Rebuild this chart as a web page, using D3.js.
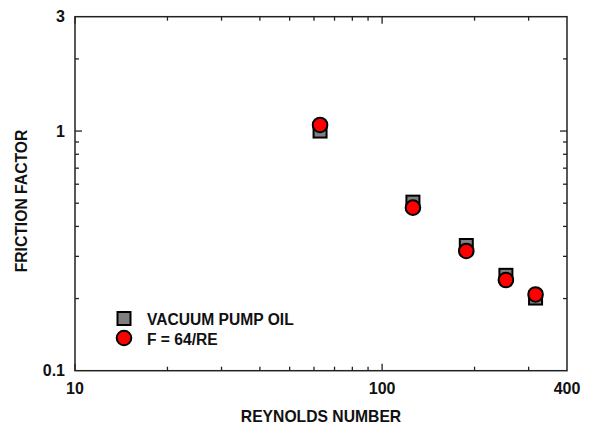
<!DOCTYPE html>
<html><head><meta charset="utf-8">
<script src="https://cdn.jsdelivr.net/npm/d3@7"></script>
<style>body{margin:0;background:#fff}svg{display:block}text{font-family:"Liberation Sans",Arial,sans-serif;font-weight:bold;fill:#111}</style>
</head><body>
<script>
const reynolds = [62.8, 126, 188, 253, 316];
const oilFriction = [1.0, 0.505, 0.333, 0.250, 0.201];
const theoryFriction = [1.06, 0.479, 0.316, 0.239, 0.208];
const xTickLabels = [10, 100, 400];
const yTickLabels = [0.1, 1, 3];
const xMinor = [20,30,40,50,60,70,80,90,200,300];
const yMinor = [0.2,0.3,0.4,0.5,0.6,0.7,0.8,0.9,2];
const seriesNames = ["VACUUM PUMP OIL", "F = 64/RE"];

const W = 591, H = 427;
const m = {l:75, r:567, t:16.7, b:370.7};
const svg = d3.select("body").append("svg").attr("width", W).attr("height", H);
const x = d3.scaleLog().domain([10,400]).range([m.l, m.r]);
const y = d3.scaleLog().domain([0.1,3]).range([m.b, m.t]);

const axisColor = "#222";
svg.append("rect").attr("x", m.l).attr("y", m.t).attr("width", m.r-m.l).attr("height", m.b-m.t)
  .attr("fill","none").attr("stroke",axisColor).attr("stroke-width",1.5);

const g = svg.append("g").attr("stroke", axisColor).attr("stroke-width",1.3);
const xMajor = [10,100];
const yMajor = [1];
function xt(v, len){
  g.append("line").attr("x1",x(v)).attr("x2",x(v)).attr("y1",m.b).attr("y2",m.b-len);
  g.append("line").attr("x1",x(v)).attr("x2",x(v)).attr("y1",m.t).attr("y2",m.t+len);
}
function yt(v, len){
  g.append("line").attr("y1",y(v)).attr("y2",y(v)).attr("x1",m.l).attr("x2",m.l+len);
  g.append("line").attr("y1",y(v)).attr("y2",y(v)).attr("x1",m.r).attr("x2",m.r-len);
}
xMajor.forEach(v=>xt(v,7)); xMinor.forEach(v=>xt(v,4));
yMajor.forEach(v=>yt(v,7)); yMinor.forEach(v=>yt(v,4));

const fs = 16;
svg.selectAll(".xl").data(xTickLabels).join("text")
  .attr("x", d=>x(d)).attr("y", m.b+23).attr("text-anchor","middle")
  .attr("font-size",fs).text(d=>d);
svg.selectAll(".yl").data(yTickLabels).join("text")
  .attr("x", m.l-10).attr("y", d=>y(d)+5.7).attr("text-anchor","end")
  .attr("font-size",fs).text(d=>d);

svg.append("text").attr("x",(m.l+m.r)/2).attr("y",422).attr("text-anchor","middle")
  .attr("font-size",15.7).text("REYNOLDS NUMBER");
svg.append("text").attr("transform","translate(27,201) rotate(-90)").attr("text-anchor","middle")
  .attr("font-size",15.7).text("FRICTION FACTOR");

const sq = 13;
svg.selectAll(".sq").data(reynolds.map((r,i)=>[r,oilFriction[i]])).join("rect")
  .attr("x", d=>x(d[0])-sq/2).attr("y", d=>y(d[1])-sq/2).attr("width",sq).attr("height",sq)
  .attr("fill","#7f7f7f").attr("stroke","#000").attr("stroke-width",2);
svg.selectAll(".ci").data(reynolds.map((r,i)=>[r,theoryFriction[i]])).join("circle")
  .attr("cx", d=>x(d[0])).attr("cy", d=>y(d[1])).attr("r",7.3)
  .attr("fill","#ff0000").attr("stroke","#000").attr("stroke-width",2);

const lg = svg.append("g");
lg.append("rect").attr("x",124-6.5).attr("y",318.5-6.5).attr("width",sq).attr("height",sq)
  .attr("fill","#7f7f7f").attr("stroke","#000").attr("stroke-width",2);
lg.append("circle").attr("cx",124).attr("cy",338).attr("r",7.3)
  .attr("fill","#ff0000").attr("stroke","#000").attr("stroke-width",2);
lg.append("text").attr("x",147).attr("y",325).attr("font-size",15.6).text(seriesNames[0]);
lg.append("text").attr("x",147).attr("y",345).attr("font-size",15.6).text(seriesNames[1]);
</script>
</body></html>
